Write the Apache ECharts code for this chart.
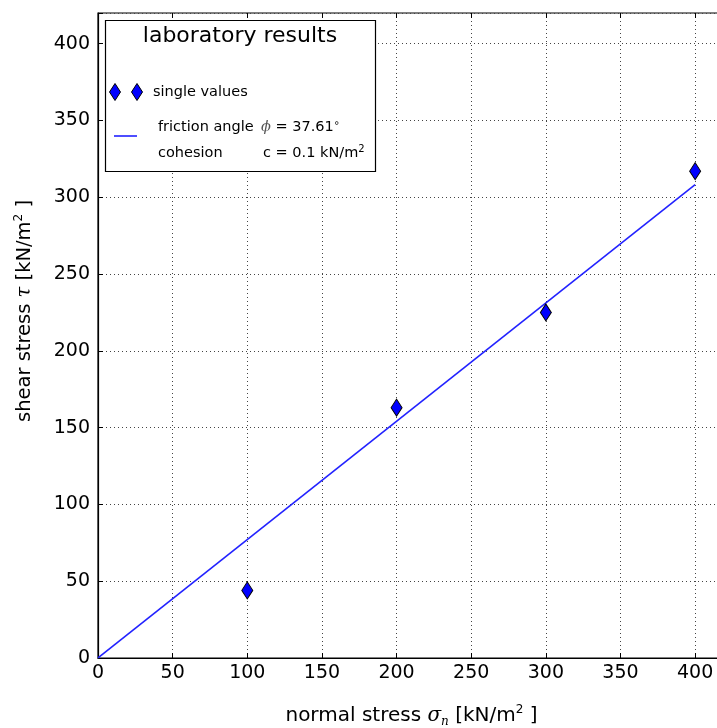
<!DOCTYPE html>
<html>
<head>
<meta charset="utf-8">
<script src="https://cdn.jsdelivr.net/npm/echarts@6/dist/echarts.min.js"></script>
<style>
  html, body { margin: 0; padding: 0; background: #fff; }
  #main { width: 717px; height: 728px; }
</style>
</head>
<body>
<div id="main"></div>
<script>
  // laboratory shear test results
  const normalStress = [100, 200, 300, 400];
  const shearStress = [44, 163, 225, 317];
  // fitted Mohr-Coulomb line at both ends
  const fitX = [0, 400];
  const fitY = [0.1, 308.2];
  const xTicks = [0, 50, 100, 150, 200, 250, 300, 350, 400];
  const yTicks = [0, 50, 100, 150, 200, 250, 300, 350, 400];

  const FONT = 'DejaVu Sans';
  const chart = echarts.init(document.getElementById('main'));

  const gridLine = { show: true, lineStyle: { color: '#444', width: 1, type: [1, 3] } };
  const tickStyle = { inside: true, length: 5, lineStyle: { color: '#000' } };

  const diamond = (x, y) => ({
    type: 'polygon', x: x, y: y, z: 101,
    shape: { points: [[0, -8.5], [5.5, 0], [0, 8.5], [-5.5, 0]] },
    style: { fill: '#0000ff', stroke: '#000', lineWidth: 1 }
  });

  const option = {
    animation: false,
    grid: {
      left: 98, top: 13, right: -8, bottom: 70,
      outerBoundsMode: 'none', containLabel: false,
      show: true, borderColor: '#000', borderWidth: 1.2
    },
    xAxis: [{
      type: 'value', min: 0, max: 420, interval: 50,
      axisLine: { show: true, lineStyle: { color: '#000', width: 1.2 } },
      axisTick: tickStyle,
      splitLine: gridLine,
      axisLabel: {
        margin: 6, color: '#000', fontFamily: FONT, fontSize: 19,
        formatter: v => (xTicks.indexOf(v) >= 0 ? String(v) : '')
      },
      name: '{t|normal stress }{g|σ}{s|n}{t| [kN/m}{sup|2}{t| ]}',
      nameLocation: 'middle', nameGap: 46,
      nameTextStyle: {
        rich: {
          t: { fontFamily: FONT, fontSize: 20, color: '#000', lineHeight: 24 },
          g: { fontFamily: 'DejaVu Serif', fontStyle: 'italic', fontSize: 20, color: '#000', lineHeight: 24 },
          s: { fontFamily: 'DejaVu Serif', fontStyle: 'italic', fontSize: 12, color: '#000', verticalAlign: 'bottom', lineHeight: 17 },
          sup: { fontFamily: FONT, fontSize: 12, color: '#000', verticalAlign: 'top', lineHeight: 15 }
        }
      }
    }, {
      type: 'value', position: 'top', min: 0, max: 420, interval: 50,
      axisLine: { show: false }, axisTick: tickStyle,
      axisLabel: { show: false }, splitLine: { show: false }
    }],
    yAxis: {
      type: 'value', min: 0, max: 420, interval: 50,
      axisLine: { show: true, lineStyle: { color: '#000', width: 1.2 } },
      axisTick: tickStyle,
      splitLine: gridLine,
      axisLabel: {
        margin: 8, color: '#000', fontFamily: FONT, fontSize: 19,
        formatter: v => (yTicks.indexOf(v) >= 0 ? String(v) : '')
      }
    },
    series: [{
      type: 'line', xAxisIndex: 0,
      data: fitX.map((x, i) => [x, fitY[i]]),
      symbol: 'none',
      lineStyle: { color: '#2222ff', width: 1.6 },
      z: 2
    }, {
      type: 'scatter', xAxisIndex: 0,
      data: normalStress.map((x, i) => [x, shearStress[i]]),
      symbol: 'diamond', symbolSize: [11, 17],
      itemStyle: { color: '#0000ff', borderColor: '#000', borderWidth: 1, opacity: 1 },
      z: 3
    }],
    graphic: [
      {
        type: 'text', x: 25, y: 311, rotation: Math.PI / 2, z: 100,
        style: {
          text: '{t|shear stress }{g|τ}{t| [kN/m}{sup|2}{t| ]}',
          align: 'center', verticalAlign: 'middle',
          rich: {
            t: { fontFamily: FONT, fontSize: 19.5, fill: '#000', lineHeight: 24 },
            g: { fontFamily: 'DejaVu Serif', fontStyle: 'italic', fontSize: 19.5, fill: '#000', lineHeight: 24 },
            sup: { fontFamily: FONT, fontSize: 12, fill: '#000', verticalAlign: 'top', lineHeight: 15 }
          }
        }
      },
      // legend box
      {
        type: 'rect', z: 100,
        shape: { x: 105.5, y: 20.5, width: 270, height: 151 },
        style: { fill: '#fff', stroke: '#000', lineWidth: 1.2 }
      },
      {
        type: 'text', x: 240, y: 36, z: 101,
        style: { text: 'laboratory results', font: '22px "DejaVu Sans"', fill: '#000', align: 'center', verticalAlign: 'middle' }
      },
      diamond(115, 92),
      diamond(137, 92),
      {
        type: 'text', x: 153, y: 92, z: 101,
        style: { text: 'single values', font: '14.5px "DejaVu Sans"', fill: '#000', verticalAlign: 'middle' }
      },
      {
        type: 'line', z: 101,
        shape: { x1: 114, y1: 136, x2: 137, y2: 136 },
        style: { stroke: '#2222ff', lineWidth: 1.6 }
      },
      {
        type: 'text', x: 158, y: 127, z: 101,
        style: { text: 'friction angle', font: '14.5px "DejaVu Sans"', fill: '#000', verticalAlign: 'middle' }
      },
      {
        type: 'text', x: 261, y: 127, z: 101,
        style: {
          text: '{g|ϕ}{t| = 37.61}{sup|∘}',
          verticalAlign: 'middle',
          rich: {
            g: { fontFamily: 'DejaVu Serif', fontStyle: 'italic', fontSize: 14.5, fill: '#555', lineHeight: 18 },
            t: { fontFamily: FONT, fontSize: 14.5, fill: '#000', lineHeight: 18 },
            sup: { fontFamily: FONT, fontSize: 10, fill: '#000', verticalAlign: 'top', lineHeight: 12 }
          }
        }
      },
      {
        type: 'text', x: 158, y: 153, z: 101,
        style: { text: 'cohesion', font: '14.5px "DejaVu Sans"', fill: '#000', verticalAlign: 'middle' }
      },
      {
        type: 'text', x: 263, y: 153, z: 101,
        style: {
          text: '{t|c = 0.1 kN/m}{sup|2}',
          verticalAlign: 'middle',
          rich: {
            t: { fontFamily: FONT, fontSize: 14.5, fill: '#000', lineHeight: 18 },
            sup: { fontFamily: FONT, fontSize: 10, fill: '#000', verticalAlign: 'top', lineHeight: 12 }
          }
        }
      }
    ]
  };

  chart.setOption(option);
</script>
</body>
</html>
